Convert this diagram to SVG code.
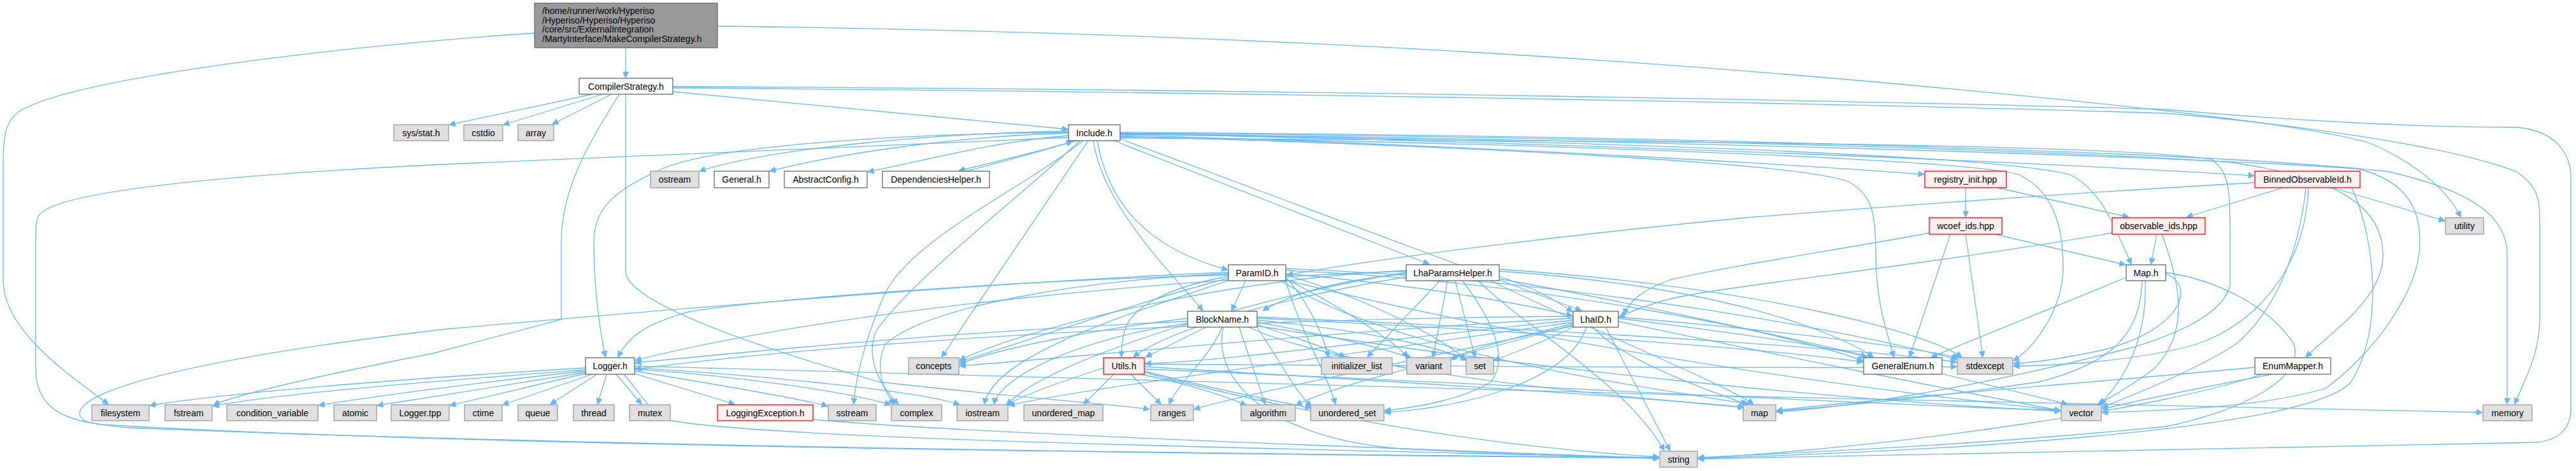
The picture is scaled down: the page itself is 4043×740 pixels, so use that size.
<svg xmlns="http://www.w3.org/2000/svg" width="4043" height="740" viewBox="0 0 4043 740">
<defs>
<marker id="a" viewBox="0 0 10 10" refX="10" refY="5" markerWidth="12" markerHeight="9" markerUnits="userSpaceOnUse" orient="auto"><path d="M0,0 L10,5 L0,10 z" fill="#63b8ff" stroke="#63b8ff"/></marker>
<style>
.e path{fill:none;stroke:#63b8ff;stroke-width:1.3;marker-end:url(#a)}
.d rect{fill:#fff;stroke:#666;stroke-width:1.3}
.x rect{fill:#e0e0e0;stroke:#999;stroke-width:1.3}
.r rect{fill:#fff0f0;stroke:#f00;stroke-width:1.3}
.m rect{fill:#999;stroke:#666;stroke-width:1.3}
text{font-family:"Liberation Sans",Arial,sans-serif;font-size:14px;fill:#000;text-anchor:middle}
.m text{text-anchor:start}
</style>
</defs>
<rect width="4043" height="740" fill="#fff"/>
<g id="edges" class="e">
<path d="M982,75 V122"/>
<path d="M839,52 C560,70 120,120 30,175 C8,190 5,215 5,260 L5,440 C5,520 110,590 170,635"/>
<path d="M1126,41 C1900,50 2500,90 2900,125 C3300,160 3620,195 3720,225 C3800,260 3845,305 3862,341"/>
<path d="M930,148 L705,196"/>
<path d="M946,148 L790,196"/>
<path d="M960,148 L867,195"/>
<path d="M1056,144 L1676,203"/>
<path d="M972,148 C920,230 881,300 881,380 L881,502 L680,555 Q400,610 335,636"/>
<path d="M982,148 V430 C990,465 1100,520 1380,600 C1600,625 1750,635 1804,643"/>
<path d="M1056,136 C2000,140 3000,160 3400,172 C3600,190 3800,200 3950,200 C4010,205 4035,240 4035,280 L4035,640 C4035,680 4010,692 3980,695 C3500,705 3000,715 2665,721"/>
<path d="M1056,138 C2000,145 3000,165 3400,178 C3600,195 3850,230 3950,270 C3980,290 3986,310 3986,340 L3986,500 C3986,560 3960,600 3947,635"/>
<path d="M1677,206 C1450,210 1200,235 1098,269"/>
<path d="M1677,209 C1480,215 1300,245 1208,269"/>
<path d="M1677,213 C1560,222 1440,255 1362,270"/>
<path d="M1690,221 C1640,235 1560,255 1505,268"/>
<path d="M1516,269 C1570,255 1640,237 1683,222"/>
<path d="M1677,208 C1400,210 1120,230 1040,265 C960,300 932,330 932,380 C932,450 940,510 950,561"/>
<path d="M1677,216 C1400,228 900,250 700,258 C350,275 80,300 60,340 C56,350 56,360 56,380 L56,580 C56,640 100,660 160,667 C700,700 1800,712 2604,720"/>
<path d="M1708,221 L1478,561"/>
<path d="M1695,221 C1600,310 1430,440 1375,520 C1355,570 1390,615 1410,635"/>
<path d="M1722,221 C1740,320 1800,390 1927,424"/>
<path d="M1716,221 C1730,320 1830,420 1888,488"/>
<path d="M1748,221 L2243,415"/>
<path d="M1758,218 L2482,488"/>
<path d="M1758,212 C2200,225 2700,250 3020,274"/>
<path d="M1758,210 C2500,225 3200,255 3538,276"/>
<path d="M1758,214 C2300,230 2820,255 2900,285 C2940,305 2944,340 2944,400 C2944,480 2965,530 2972,561"/>
<path d="M1758,215 C2400,225 3100,250 3170,275 C3220,300 3238,350 3238,420 C3238,480 3200,540 3160,567"/>
<path d="M1758,211 C2500,220 3150,245 3250,275 C3300,300 3320,360 3345,415"/>
<path d="M1758,209 C2600,215 3300,240 3500,255 C3680,280 3740,330 3740,400 C3740,470 3660,520 3619,561"/>
<path d="M1758,210 C2600,220 3400,245 3700,265 C3780,285 3798,330 3798,380 C3798,460 3720,560 3650,610 C3550,640 3400,645 3299,648"/>
<path d="M1758,208 C2600,212 3500,240 3750,270 C3880,300 3935,340 3935,400 L3935,635"/>
<path d="M1758,217 C2600,222 3300,225 3470,250 C3500,270 3500,300 3500,380 L3500,448 C3490,490 3430,520 3350,545 C3100,610 2900,640 2788,647"/>
<path d="M1700,221 C1600,300 1420,380 1385,470 C1355,540 1342,600 1340,635"/>
<path d="M1955,441 L1933,488"/>
<path d="M1928,434 C1840,450 1775,480 1765,520 C1760,540 1760,550 1760,561"/>
<path d="M1928,437 C1800,470 1600,540 1506,568"/>
<path d="M1928,432 C1600,440 1200,470 1080,490 C1010,510 985,530 970,561"/>
<path d="M1930,440 C1750,500 1560,560 1545,635"/>
<path d="M2018,436 C2050,470 2075,520 2085,561"/>
<path d="M2018,438 C2100,480 2180,530 2210,561"/>
<path d="M2018,432 C2150,470 2260,530 2300,564"/>
<path d="M2018,425 C2400,440 2800,520 2924,567"/>
<path d="M2018,422 C2500,440 2950,530 3071,565"/>
<path d="M2010,441 C2200,560 2600,610 2745,635"/>
<path d="M1928,428 C1600,440 1000,490 700,517 C330,560 125,610 125,650 C125,662 140,666 200,672 C900,700 1800,712 2604,719"/>
<path d="M2018,440 C2500,560 3000,620 3234,645"/>
<path d="M2018,430 C2250,450 2400,480 2468,496"/>
<path d="M1928,430 C1700,440 1460,480 1390,540 C1370,580 1390,620 1404,635"/>
<path d="M2018,441 C2040,520 2080,580 2096,635"/>
<path d="M3539,287 C3300,300 2950,325 2740,342 C2500,365 2200,400 2020,432"/>
<path d="M1893,514 L1798,561"/>
<path d="M1864,500 C1700,520 1560,550 1506,572"/>
<path d="M1864,505 C1500,520 1150,555 997,570"/>
<path d="M1864,508 C1700,530 1570,590 1560,635"/>
<path d="M1918,514 C1900,560 1850,600 1835,635"/>
<path d="M1945,514 C1960,560 1975,600 1985,635"/>
<path d="M1973,510 C2030,530 2080,545 2111,561"/>
<path d="M1973,506 C2100,530 2180,550 2216,563"/>
<path d="M1973,503 C2150,520 2260,545 2302,566"/>
<path d="M1973,500 C2400,520 2800,550 2924,569"/>
<path d="M1973,498 C2500,520 2950,550 3071,569"/>
<path d="M1920,514 C1900,600 2000,690 2200,705 C2400,715 2500,718 2604,720"/>
<path d="M1960,514 C2100,580 2500,620 2737,640"/>
<path d="M1973,512 C2400,580 2900,630 3234,646"/>
<path d="M1973,514 C2010,570 2030,610 2058,639"/>
<path d="M1732,578 C1680,595 1620,615 1579,636"/>
<path d="M1748,588 L1701,635"/>
<path d="M1775,588 L1822,635"/>
<path d="M1790,588 C1850,600 1920,620 1956,637"/>
<path d="M1796,580 C2300,600 2800,630 3234,645"/>
<path d="M1796,585 C2000,640 2300,700 2604,718"/>
<path d="M1796,576 C2200,600 2600,625 2737,640"/>
<path d="M1796,572 C2300,575 2900,580 3071,576"/>
<path d="M1796,583 C1900,610 2000,630 2058,641"/>
<path d="M2207,430 C2100,440 2030,460 1982,488"/>
<path d="M2353,434 C2400,450 2440,470 2468,490"/>
<path d="M2260,441 L2146,561"/>
<path d="M2272,441 L2249,561"/>
<path d="M2284,441 L2315,561"/>
<path d="M2295,441 C2340,500 2370,560 2340,600 C2300,625 2230,640 2173,645"/>
<path d="M2207,425 C1900,440 1600,520 1506,566"/>
<path d="M2207,428 C2000,460 1650,560 1580,636"/>
<path d="M2207,426 C1800,440 1300,490 997,566"/>
<path d="M2353,426 C2700,450 2880,520 2940,561"/>
<path d="M2353,423 C2750,450 3020,520 3079,561"/>
<path d="M2320,441 C2400,520 2550,600 2612,708"/>
<path d="M2340,441 C2500,520 2700,600 2752,635"/>
<path d="M2353,438 C2700,500 3100,600 3245,635"/>
<path d="M2207,435 C2000,470 1830,520 1779,561"/>
<path d="M2469,503 C2200,530 1900,570 1797,571"/>
<path d="M2469,500 C2100,520 1700,560 1506,575"/>
<path d="M2469,506 C2100,560 1700,610 1583,637"/>
<path d="M2469,508 C2380,530 2300,550 2278,565"/>
<path d="M2472,512 C2420,540 2370,555 2345,567"/>
<path d="M2490,514 C2460,600 2300,640 2173,648"/>
<path d="M2520,514 L2621,708"/>
<path d="M2500,514 C2550,570 2700,620 2741,635"/>
<path d="M2540,505 C2800,560 3100,620 3234,645"/>
<path d="M2540,500 C2700,520 2880,545 2930,561"/>
<path d="M2540,498 C2800,520 3000,545 3074,562"/>
<path d="M2469,510 C2300,560 2100,600 2034,637"/>
<path d="M2469,512 C2200,570 1950,620 1874,643"/>
<path d="M2469,497 C1900,500 1300,540 997,580"/>
<path d="M3028,366 C2900,390 2700,420 2620,440 C2580,455 2560,470 2548,494"/>
<path d="M3061,368 L2997,561"/>
<path d="M3085,368 L3112,561"/>
<path d="M3131,368 L3336,416"/>
<path d="M3085,295 V341"/>
<path d="M3135,295 L3341,341"/>
<path d="M3385,368 L3376,415"/>
<path d="M3315,366 C3000,420 2700,450 2620,470 C2580,480 2560,490 2541,498"/>
<path d="M3393,368 C3420,440 3440,520 3380,580 C3340,610 3310,625 3292,636"/>
<path d="M3583,295 L3432,341"/>
<path d="M3661,295 L3837,347"/>
<path d="M3619,295 C3610,380 3580,480 3510,540 C3450,580 3350,620 3299,640"/>
<path d="M3623,295 C3620,400 3560,500 3450,540 C3350,570 3200,575 3160,575"/>
<path d="M3691,295 C3730,380 3740,520 3690,600 C3620,680 3000,710 2665,720"/>
<path d="M3337,436 L3031,561"/>
<path d="M3367,441 C3370,540 3330,600 3296,635"/>
<path d="M3362,441 C3360,520 3320,570 3200,600 C3000,630 2850,640 2788,646"/>
<path d="M3399,430 C3450,450 3420,520 3300,550 C3230,565 3190,570 3160,571"/>
<path d="M3399,428 C3480,440 3560,480 3600,540 C3620,600 3500,650 3400,670 C3100,700 2800,712 2665,719"/>
<path d="M3539,577 C3300,600 2900,630 2788,645"/>
<path d="M3566,588 C3450,610 3350,630 3299,643"/>
<path d="M3550,588 C3400,640 3000,700 2665,720"/>
<path d="M919,578 C800,585 400,610 235,637"/>
<path d="M919,581 C800,590 450,615 334,638"/>
<path d="M919,583 C820,593 600,620 500,637"/>
<path d="M919,585 C850,597 700,620 592,637"/>
<path d="M919,587 C860,600 780,620 706,637"/>
<path d="M930,588 L789,636"/>
<path d="M937,588 L864,635"/>
<path d="M952,588 L938,635"/>
<path d="M967,588 L1007,635"/>
<path d="M996,587 L1153,635"/>
<path d="M996,583 C1100,600 1250,625 1299,638"/>
<path d="M996,580 C1150,590 1330,615 1398,636"/>
<path d="M996,578 C1200,590 1450,615 1506,636"/>
<path d="M979,588 C1000,610 1020,650 1050,660 C1200,690 2000,705 2604,719"/>
<path d="M996,575 C1700,600 3000,630 3896,648"/>
<path d="M1276,659 C1500,680 2200,705 2604,720"/>
</g>
<g id="n_main" class="m"><rect x="839" y="5" width="287" height="70"/><text x="851" y="22">/home/runner/work/Hyperiso</text><text x="851" y="37">/Hyperiso/Hyperiso/Hyperiso</text><text x="851" y="51">/core/src/ExternalIntegration</text><text x="851" y="66">/MartyInterface/MakeCompilerStrategy.h</text></g>
<g id="n_CompilerStrategy" class="d"><rect x="909" y="123" width="147" height="25"/><text x="982.5" y="140.5">CompilerStrategy.h</text></g>
<g id="n_sysstat" class="x"><rect x="618" y="196" width="86" height="25"/><text x="661" y="213.5">sys/stat.h</text></g>
<g id="n_cstdio" class="x"><rect x="728" y="196" width="61" height="25"/><text x="758.5" y="213.5">cstdio</text></g>
<g id="n_array" class="x"><rect x="813" y="196" width="56" height="25"/><text x="841" y="213.5">array</text></g>
<g id="n_Include" class="d"><rect x="1677" y="196" width="81" height="25"/><text x="1717.5" y="213.5">Include.h</text></g>
<g id="n_ostream" class="x"><rect x="1021" y="269" width="76" height="26"/><text x="1059" y="287">ostream</text></g>
<g id="n_General" class="d"><rect x="1121" y="269" width="86" height="26"/><text x="1164" y="287">General.h</text></g>
<g id="n_AbstractConfig" class="d"><rect x="1231" y="269" width="130" height="26"/><text x="1296" y="287">AbstractConfig.h</text></g>
<g id="n_DependenciesHelper" class="d"><rect x="1385" y="269" width="168" height="26"/><text x="1469" y="287">DependenciesHelper.h</text></g>
<g id="n_registry_init" class="r"><rect x="3021" y="269" width="128" height="26"/><text x="3085" y="287">registry_init.hpp</text></g>
<g id="n_BinnedObservableId" class="r"><rect x="3539" y="269" width="165" height="26"/><text x="3621.5" y="287">BinnedObservableId.h</text></g>
<g id="n_wcoef_ids" class="r"><rect x="3028" y="342" width="114" height="26"/><text x="3085" y="360">wcoef_ids.hpp</text></g>
<g id="n_observable_ids" class="r"><rect x="3315" y="342" width="146" height="26"/><text x="3388" y="360">observable_ids.hpp</text></g>
<g id="n_utility" class="x"><rect x="3838" y="342" width="60" height="26"/><text x="3868" y="360">utility</text></g>
<g id="n_ParamID" class="d"><rect x="1928" y="416" width="90" height="25"/><text x="1973" y="433.5">ParamID.h</text></g>
<g id="n_LhaParamsHelper" class="d"><rect x="2207" y="416" width="146" height="25"/><text x="2280" y="433.5">LhaParamsHelper.h</text></g>
<g id="n_Map" class="d"><rect x="3337" y="416" width="62" height="25"/><text x="3368" y="433.5">Map.h</text></g>
<g id="n_BlockName" class="d"><rect x="1864" y="489" width="109" height="25"/><text x="1918.5" y="506.5">BlockName.h</text></g>
<g id="n_LhaID" class="d"><rect x="2469" y="489" width="71" height="25"/><text x="2504.5" y="506.5">LhaID.h</text></g>
<g id="n_Logger" class="d"><rect x="919" y="562" width="77" height="26"/><text x="957.5" y="580">Logger.h</text></g>
<g id="n_concepts" class="x"><rect x="1426" y="562" width="79" height="26"/><text x="1465.5" y="580">concepts</text></g>
<g id="n_Utils" class="r"><rect x="1732" y="562" width="64" height="26"/><text x="1764" y="580">Utils.h</text></g>
<g id="n_initializer_list" class="x"><rect x="2074" y="562" width="111" height="26"/><text x="2129.5" y="580">initializer_list</text></g>
<g id="n_variant" class="x"><rect x="2208" y="562" width="69" height="26"/><text x="2242.5" y="580">variant</text></g>
<g id="n_set" class="x"><rect x="2301" y="562" width="43" height="26"/><text x="2322.5" y="580">set</text></g>
<g id="n_GeneralEnum" class="d"><rect x="2925" y="562" width="123" height="26"/><text x="2986.5" y="580">GeneralEnum.h</text></g>
<g id="n_stdexcept" class="x"><rect x="3072" y="562" width="87" height="26"/><text x="3115.5" y="580">stdexcept</text></g>
<g id="n_EnumMapper" class="d"><rect x="3539" y="562" width="119" height="26"/><text x="3598.5" y="580">EnumMapper.h</text></g>
<g id="n_filesystem" class="x"><rect x="144" y="636" width="90" height="25"/><text x="189" y="653.5">filesystem</text></g>
<g id="n_fstream" class="x"><rect x="259" y="636" width="74" height="25"/><text x="296" y="653.5">fstream</text></g>
<g id="n_condition_variable" class="x"><rect x="356" y="636" width="143" height="25"/><text x="427.5" y="653.5">condition_variable</text></g>
<g id="n_atomic" class="x"><rect x="524" y="636" width="67" height="25"/><text x="557.5" y="653.5">atomic</text></g>
<g id="n_Loggertpp" class="x"><rect x="614" y="636" width="91" height="25"/><text x="659.5" y="653.5">Logger.tpp</text></g>
<g id="n_ctime" class="x"><rect x="729" y="636" width="59" height="25"/><text x="758.5" y="653.5">ctime</text></g>
<g id="n_queue" class="x"><rect x="813" y="636" width="62" height="25"/><text x="844" y="653.5">queue</text></g>
<g id="n_thread" class="x"><rect x="900" y="636" width="64" height="25"/><text x="932" y="653.5">thread</text></g>
<g id="n_mutex" class="x"><rect x="988" y="636" width="64" height="25"/><text x="1020" y="653.5">mutex</text></g>
<g id="n_LoggingException" class="r"><rect x="1126" y="636" width="150" height="25"/><text x="1201" y="653.5">LoggingException.h</text></g>
<g id="n_sstream" class="x"><rect x="1300" y="636" width="75" height="25"/><text x="1337.5" y="653.5">sstream</text></g>
<g id="n_complex" class="x"><rect x="1399" y="636" width="79" height="25"/><text x="1438.5" y="653.5">complex</text></g>
<g id="n_iostream" class="x"><rect x="1502" y="636" width="80" height="25"/><text x="1542" y="653.5">iostream</text></g>
<g id="n_unordered_map" class="x"><rect x="1607" y="636" width="124" height="25"/><text x="1669" y="653.5">unordered_map</text></g>
<g id="n_ranges" class="x"><rect x="1806" y="636" width="67" height="25"/><text x="1839.5" y="653.5">ranges</text></g>
<g id="n_algorithm" class="x"><rect x="1948" y="636" width="85" height="25"/><text x="1990.5" y="653.5">algorithm</text></g>
<g id="n_unordered_set" class="x"><rect x="2057" y="636" width="115" height="25"/><text x="2114.5" y="653.5">unordered_set</text></g>
<g id="n_map" class="x"><rect x="2736" y="636" width="51" height="25"/><text x="2761.5" y="653.5">map</text></g>
<g id="n_vector" class="x"><rect x="3235" y="636" width="63" height="25"/><text x="3266.5" y="653.5">vector</text></g>
<g id="n_memory" class="x"><rect x="3897" y="636" width="77" height="25"/><text x="3935.5" y="653.5">memory</text></g>
<g id="n_string" class="x"><rect x="2605" y="709" width="59" height="25"/><text x="2634.5" y="726.5">string</text></g>
</svg>
